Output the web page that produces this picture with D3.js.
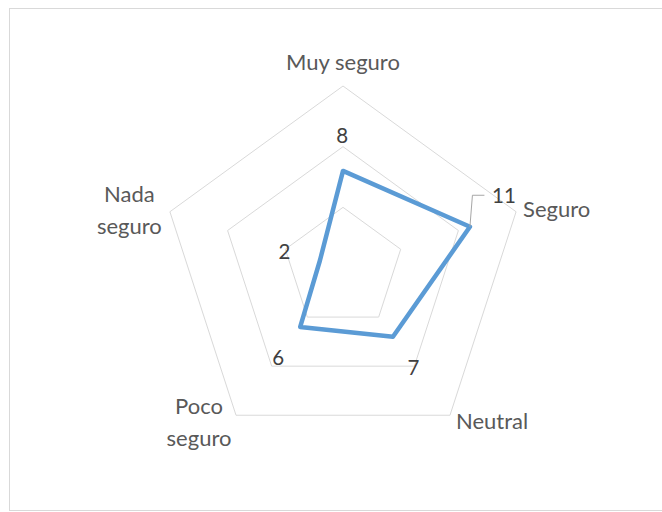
<!DOCTYPE html>
<html>
<head>
<meta charset="utf-8">
<script src="https://cdn.jsdelivr.net/npm/d3@7"></script>
<style>
    body { margin: 0; background: #fff; }
    svg { display: block; font-family: Lato, "Open Sans", sans-serif; }
    .grid { fill: none; stroke: #d9d9d9; stroke-width: 1; }
    .category { fill: #595959; font-size: 22px; }
    .value { fill: #404040; font-size: 20.5px; }
</style>
</head>
<body>
<svg id="chart" width="662" height="512"></svg>
<script>
// Data
const categories = ['Muy seguro', 'Seguro', 'Neutral', 'Poco seguro', 'Nada seguro'];
const values = [8, 11, 7, 6, 2];
const ringTicks = [5, 10, 15];
const axisMax = 15;

/**
 * Visual configs.
 */
const width = 662, height = 512,
    cx = 343, cy = 268, radius = 182;

// Category label placement, relative to the outer ring vertex
const categoryLayout = [
    { anchor: 'middle', dx: 0, dy: [-16] },
    { anchor: 'start', dx: 7, dy: [5] },
    { anchor: 'start', dx: 6, dy: [14] },
    { anchor: 'middle', dx: -37, dy: [-1, 30.5] },
    { anchor: 'middle', dx: -40.5, dy: [-10, 22.5] }
];

// Data label placement, relative to the data point (Excel labels moved by hand)
const valueLayout = [
    { dx: -0.7, dy: -27.7 },
    { dx: 34, dy: -24, leader: true },
    { dx: 20.4, dy: 38.3 },
    { dx: -21.9, dy: 38.1 },
    { dx: -35.6, dy: -1.5 }
];

const svg = d3.select('#chart');

const rScale = d3.scaleLinear().domain([0, axisMax]).range([0, radius]);
const angle = d3.scaleLinear().domain([0, categories.length]).range([0, 2 * Math.PI]);

function point(i, v) {
    const a = angle(i), r = rScale(v);
    return [cx + r * Math.sin(a), cy - r * Math.cos(a)];
}

// Chart border
svg.append('rect')
    .attr('x', 9.5).attr('y', 8.5)
    .attr('width', 700).attr('height', 502)
    .attr('fill', 'none').attr('stroke', '#d9d9d9');

// Grid rings
const line = d3.line();
svg.append('g').selectAll('path')
    .data(ringTicks)
    .join('path')
        .attr('class', 'grid')
        .attr('d', t => line(categories.map((c, i) => point(i, t))) + 'Z');

// Category labels
const catGroup = svg.append('g');
categories.forEach((c, i) => {
    const p = point(i, axisMax), lay = categoryLayout[i];
    const words = lay.dy.length > 1 ? c.split(' ') : [c];
    const text = catGroup.append('text')
        .attr('class', 'category')
        .attr('text-anchor', lay.anchor);
    words.forEach((w, k) => {
        text.append('tspan')
            .attr('x', p[0] + lay.dx)
            .attr('y', p[1] + lay.dy[k])
            .text(w);
    });
});

// Series
const pts = values.map((v, i) => point(i, v));
svg.append('path')
    .attr('d', line(pts) + 'Z')
    .attr('fill', 'none')
    .attr('stroke', '#5b9bd5')
    .attr('stroke-width', 4.5)
    .attr('stroke-linejoin', 'round');

// Data labels
const valGroup = svg.append('g');
values.forEach((v, i) => {
    const p = pts[i], lay = valueLayout[i];
    if (lay.leader) {
        valGroup.append('path')
            .attr('d', line([p, [p[0] + 2.5, p[1] - 31.5], [p[0] + 14.5, p[1] - 31.5]]))
            .attr('fill', 'none')
            .attr('stroke', '#a6a6a6')
            .attr('stroke-width', 1);
    }
    valGroup.append('text')
        .attr('class', 'value')
        .attr('text-anchor', 'middle')
        .attr('x', p[0] + lay.dx)
        .attr('y', p[1] + lay.dy)
        .text(v);
});
</script>
</body>
</html>
